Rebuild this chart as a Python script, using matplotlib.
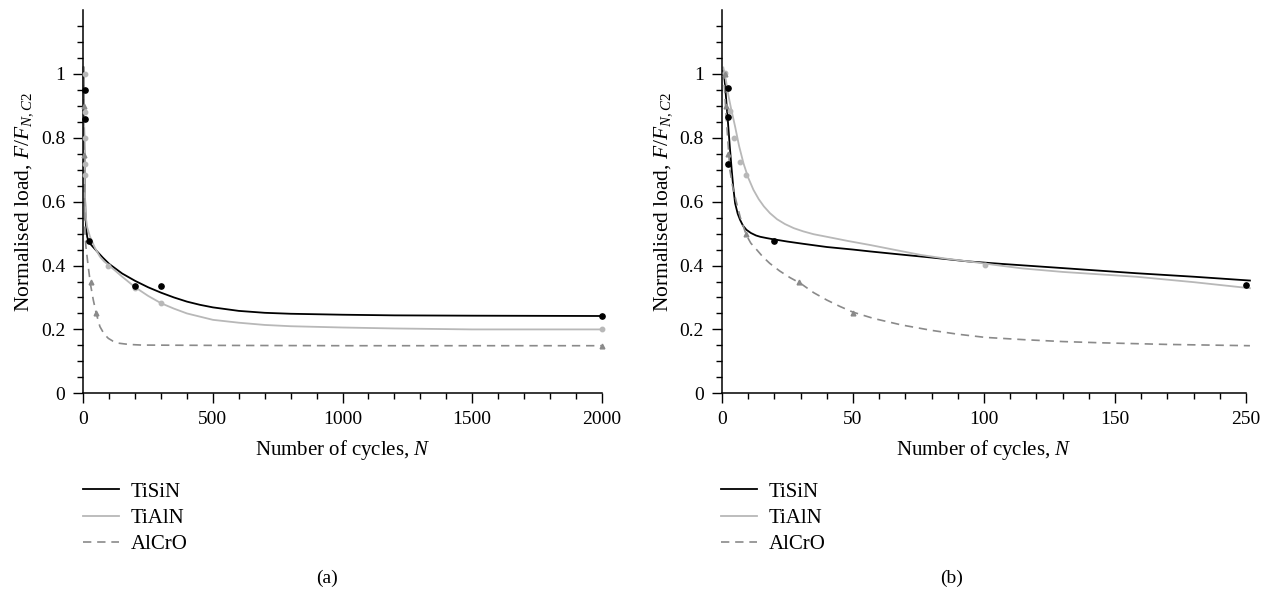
import matplotlib
matplotlib.use("Agg")
import matplotlib.pyplot as plt
from matplotlib.ticker import FixedLocator

plt.rcParams['font.family'] = ['Liberation Serif', 'DejaVu Serif']
plt.rcParams['mathtext.fontset'] = 'custom'
plt.rcParams['mathtext.rm'] = 'Liberation Serif'
plt.rcParams['mathtext.it'] = 'Liberation Serif:italic'
plt.rcParams['font.size'] = 14

series_names = ["TiSiN", "TiAlN", "AlCrO"]

# ---------------- Panel (a) ----------------
a_tisin_pts_x = [8, 8, 21, 200, 300, 2000]
a_tisin_pts_y = [0.95, 0.858, 0.477, 0.335, 0.335, 0.242]
a_tialn_pts_x = [5, 5, 5, 6, 7, 97, 200, 300, 2000]
a_tialn_pts_y = [1.0, 0.88, 0.80, 0.717, 0.683, 0.40, 0.33, 0.283, 0.20]
a_alcro_pts_x = [4, 4, 28, 49, 2000]
a_alcro_pts_y = [0.898, 0.747, 0.35, 0.25, 0.149]

a_tisin_curve_x = [1, 2, 3, 4, 5, 6, 8, 10, 12, 15, 20, 30, 50, 75, 100, 150, 200, 250, 300, 350, 400,
                   450, 500, 600, 700, 800, 1000, 1200, 1500, 2000]
a_tisin_curve_y = [1.02, 0.93, 0.85, 0.77, 0.70, 0.64, 0.57, 0.53, 0.51, 0.49, 0.475, 0.465, 0.447, 0.425,
                   0.405, 0.375, 0.352, 0.332, 0.315, 0.300, 0.287, 0.277, 0.269, 0.258, 0.252, 0.249,
                   0.246, 0.244, 0.243, 0.242]
a_tialn_curve_x = [1, 2, 3, 5, 7, 10, 15, 26, 45, 64, 80, 100, 150, 200, 250, 300, 350, 400, 450, 500,
                   600, 700, 800, 1000, 1200, 1500, 2000]
a_tialn_curve_y = [1.02, 0.92, 0.84, 0.70, 0.60, 0.55, 0.52, 0.49, 0.455, 0.428, 0.413, 0.40, 0.365,
                   0.332, 0.305, 0.282, 0.265, 0.25, 0.24, 0.23, 0.221, 0.214, 0.21, 0.206, 0.203, 0.20, 0.20]
a_alcro_curve_x = [1, 2, 3, 5, 6.6, 10, 19, 28, 38.6, 50, 64, 80, 96.5, 115, 135, 175, 225, 500, 1000, 2000]
a_alcro_curve_y = [1.01, 0.85, 0.72, 0.58, 0.50, 0.46, 0.397, 0.34, 0.292, 0.25, 0.209, 0.186, 0.172,
                   0.163, 0.157, 0.153, 0.151, 0.150, 0.149, 0.149]

# ---------------- Panel (b) ----------------
b_tisin_pts_x = [2.3, 2.3, 2.3, 20, 200]
b_tisin_pts_y = [0.955, 0.865, 0.717, 0.478, 0.339]
b_tialn_pts_x = [1.3, 3, 4.7, 6.7, 9.1, 100.5]
b_tialn_pts_y = [1.003, 0.883, 0.80, 0.724, 0.684, 0.402]
b_alcro_pts_x = [1.2, 1.6, 2.2, 9.1, 29.5, 50]
b_alcro_pts_y = [1.0, 0.898, 0.749, 0.50, 0.348, 0.25]

b_tisin_curve_x = [0.5, 1, 1.5, 2.4, 3, 3.7, 4.3, 5, 6, 6.9, 8, 9.3, 11, 13, 14.6, 17, 19, 25, 31, 40,
                   50, 56.7, 70, 80, 93.8, 107, 130, 158, 180, 201.5]
b_tisin_curve_y = [1.01, 0.98, 0.93, 0.835, 0.77, 0.70, 0.645, 0.595, 0.562, 0.543, 0.525, 0.512, 0.502,
                   0.494, 0.49, 0.486, 0.483, 0.475, 0.468, 0.458, 0.450, 0.444, 0.433, 0.425, 0.413,
                   0.405, 0.392, 0.376, 0.365, 0.353]
b_tialn_curve_x = [0.5, 1.5, 2.5, 3.5, 5, 6.5, 8.2, 10, 12, 14, 16, 18.3, 21, 24, 27.4, 31, 35, 40, 48,
                   56.7, 66, 76, 86, 95, 105, 114.6, 130, 158, 180, 201.5]
b_tialn_curve_y = [1.02, 0.98, 0.93, 0.89, 0.835, 0.775, 0.72, 0.675, 0.637, 0.608, 0.585, 0.564, 0.545,
                   0.53, 0.517, 0.507, 0.498, 0.49, 0.477, 0.464, 0.449, 0.433, 0.421, 0.412, 0.401,
                   0.391, 0.38, 0.365, 0.348, 0.329]
b_alcro_curve_x = [0.5, 1, 1.5, 2, 3, 4, 5.6, 7, 9.3, 11, 13.3, 15.5, 18.2, 22, 26, 30, 35, 40, 45, 50,
                   58, 68.5, 80, 90, 100.5, 115, 130, 145, 170, 201.5]
b_alcro_curve_y = [1.01, 0.95, 0.88, 0.82, 0.70, 0.65, 0.595, 0.55, 0.495, 0.47, 0.449, 0.428, 0.407,
                   0.383, 0.362, 0.344, 0.315, 0.292, 0.272, 0.254, 0.234, 0.214, 0.197, 0.185, 0.175,
                   0.168, 0.162, 0.158, 0.153, 0.149]

a_xticks = [0, 500, 1000, 1500, 2000]
a_xticklabels = ["0", "500", "1000", "1500", "2000"]
b_xticks = [0, 50, 100, 150, 200]
b_xticklabels = ["0", "50", "100", "150", "250"]
yticks = [0, 0.2, 0.4, 0.6, 0.8, 1.0]
yticklabels = ["0", "0.2", "0.4", "0.6", "0.8", "1"]

c_tisin = "#000000"
c_tialn = "#b8b8b8"
c_alcro = "#8a8a8a"

fig = plt.figure(figsize=(12.72, 5.94), dpi=100)
W, H = 1272, 594
ax_a = fig.add_axes([83.3 / W, 1 - 393.3 / H, 518.4 / W, 383.3 / H])
ax_b = fig.add_axes([722 / W, 1 - 393.3 / H, 524 / W, 383.3 / H])


def draw(ax, d, xmax, xticks, xticklabels, minor_step, legend_x, panel_label, panel_x):
    (tsx, tsy, tax, tay, acx, acy, tscx, tscy, tacx, tacy, accx, accy) = d
    l1, = ax.plot(tscx, tscy, color=c_tisin, lw=1.3, label=series_names[0], clip_on=False)
    l2, = ax.plot(tacx, tacy, color=c_tialn, lw=1.3, label=series_names[1], clip_on=False)
    l3, = ax.plot(accx, accy, color=c_alcro, lw=1.2, ls=(0, (5, 3.5)), label=series_names[2], clip_on=False)
    ax.plot(tax, tay, ls='none', marker='o', ms=3.2, color=c_tialn, clip_on=False, zorder=4)
    ax.plot(acx, acy, ls='none', marker='^', ms=3.4, color=c_alcro, clip_on=False, zorder=4)
    ax.plot(tsx, tsy, ls='none', marker='o', ms=3.8, color=c_tisin, clip_on=False, zorder=5)

    ax.set_xlim(0, xmax)
    ax.set_ylim(0, 1.2)
    for s in ['top', 'right']:
        ax.spines[s].set_visible(False)
    for s in ['left', 'bottom']:
        ax.spines[s].set_linewidth(1.1)
    ax.set_xticks(xticks)
    ax.set_xticklabels(xticklabels)
    ax.xaxis.set_minor_locator(FixedLocator([v for v in range(0, xmax + 1, minor_step) if v not in xticks]))
    ax.set_yticks(yticks)
    ax.set_yticklabels(yticklabels)
    ax.yaxis.set_minor_locator(FixedLocator([i * 0.05 for i in range(24) if i % 4 != 0]))
    ax.tick_params(which='major', direction='out', length=7, width=1.0, pad=6)
    ax.tick_params(which='minor', direction='out', length=4, width=1.0)
    ax.set_xlabel(r"Number of cycles, $N$", labelpad=7, fontsize=15)
    ax.set_ylabel(r"Normalised load, $F/F_{N,C2}$", labelpad=4, fontsize=15.5)
    fig.legend(handles=[l1, l2, l3], loc='upper left',
               bbox_to_anchor=(legend_x / W, 1 - 482 / H),
               frameon=False, handlelength=1.75, handletextpad=0.55,
               labelspacing=0.32, borderpad=0, borderaxespad=0, fontsize=15)
    fig.text(panel_x / W, 1 - 578 / H, panel_label, ha='center', va='center', fontsize=14)


draw(ax_a, (a_tisin_pts_x, a_tisin_pts_y, a_tialn_pts_x, a_tialn_pts_y, a_alcro_pts_x, a_alcro_pts_y,
            a_tisin_curve_x, a_tisin_curve_y, a_tialn_curve_x, a_tialn_curve_y, a_alcro_curve_x, a_alcro_curve_y),
     2000, a_xticks, a_xticklabels, 100, 83, "(a)", 327)
draw(ax_b, (b_tisin_pts_x, b_tisin_pts_y, b_tialn_pts_x, b_tialn_pts_y, b_alcro_pts_x, b_alcro_pts_y,
            b_tisin_curve_x, b_tisin_curve_y, b_tialn_curve_x, b_tialn_curve_y, b_alcro_curve_x, b_alcro_curve_y),
     200, b_xticks, b_xticklabels, 10, 721, "(b)", 952)

fig.savefig("out.png", dpi=100)
